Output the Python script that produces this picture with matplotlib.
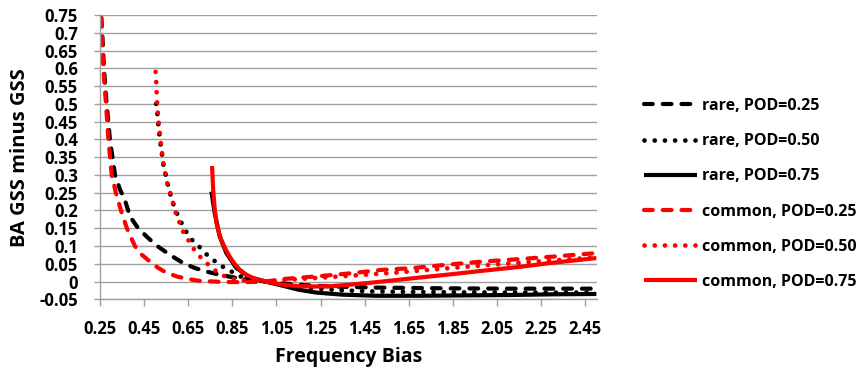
import matplotlib
matplotlib.use("Agg")
import matplotlib.pyplot as plt

# ---- data ----
rare25_x = [0.25, 0.26, 0.268, 0.28, 0.295, 0.318, 0.34, 0.363, 0.386, 0.423, 0.469, 0.514, 0.567, 0.627,
            0.68, 0.733, 0.80, 0.88, 0.95, 1.0, 1.08, 1.2, 1.3, 1.5, 1.8, 2.1, 2.5]
rare25_y = [0.80, 0.70, 0.60, 0.50, 0.40, 0.30, 0.26, 0.229, 0.183, 0.15, 0.122, 0.098, 0.075, 0.052,
            0.038, 0.028, 0.018, 0.009, 0.003, 0.0, -0.006, -0.011, -0.014, -0.017, -0.019, -0.02, -0.02]

rare50_x = [0.505, 0.509, 0.516, 0.526, 0.537, 0.555, 0.575, 0.60, 0.635, 0.67, 0.70, 0.73, 0.763, 0.80,
            0.846, 0.884, 0.93, 1.0, 1.1, 1.2, 1.35, 1.5, 1.8, 2.1, 2.5]
rare50_y = [0.50, 0.48, 0.43, 0.38, 0.33, 0.28, 0.23, 0.19, 0.145, 0.115, 0.098, 0.078, 0.061, 0.044,
            0.028, 0.015, 0.007, 0.0, -0.01, -0.018, -0.025, -0.028, -0.03, -0.031, -0.031]

rare75_x = [0.755, 0.77, 0.793, 0.823, 0.868, 0.929, 1.0, 1.08, 1.15, 1.23, 1.35, 1.5, 1.7, 1.9, 2.1, 2.3, 2.5]
rare75_y = [0.253, 0.193, 0.126, 0.08, 0.038, 0.012, 0.0, -0.012, -0.023, -0.031, -0.037, -0.04, -0.04,
            -0.039, -0.038, -0.036, -0.035]

common25_x = [0.25, 0.255, 0.258, 0.265, 0.277, 0.288, 0.303, 0.322, 0.345, 0.372, 0.408, 0.44, 0.469,
              0.51, 0.55, 0.60, 0.65, 0.70, 0.80, 0.90, 1.0, 1.08, 1.2, 1.26, 1.4, 1.53, 1.67, 1.8, 1.98,
              2.15, 2.3, 2.5]
common25_y = [0.80, 0.75, 0.70, 0.60, 0.50, 0.40, 0.30, 0.25, 0.20, 0.15, 0.10, 0.075, 0.06, 0.04,
              0.025, 0.014, 0.007, 0.002, -0.001, -0.002, 0.0, 0.007, 0.013, 0.016, 0.024, 0.033, 0.038,
              0.046, 0.056, 0.063, 0.07, 0.08]

common50_x = [0.502, 0.505, 0.509, 0.516, 0.526, 0.537, 0.555, 0.57, 0.594, 0.627, 0.65, 0.672, 0.70,
              0.733, 0.778, 0.823, 0.87, 0.93, 1.0, 1.1, 1.23, 1.4, 1.61, 1.8, 2.0, 2.2, 2.5]
common50_y = [0.59, 0.559, 0.501, 0.445, 0.389, 0.333, 0.276, 0.246, 0.192, 0.14, 0.117, 0.094, 0.072,
              0.052, 0.028, 0.012, 0.005, 0.001, 0.0, 0.005, 0.01, 0.017, 0.026, 0.036, 0.046, 0.055, 0.068]

common75_x = [0.758, 0.763, 0.77, 0.778, 0.79, 0.80, 0.82, 0.838, 0.86, 0.884, 0.91, 0.944, 1.0, 1.08,
              1.15, 1.23, 1.3, 1.38, 1.5, 1.68, 1.85, 1.98, 2.15, 2.29, 2.5]
common75_y = [0.325, 0.258, 0.205, 0.164, 0.135, 0.117, 0.09, 0.07, 0.05, 0.033, 0.02, 0.01, 0.0, -0.009,
              -0.013, -0.014, -0.013, -0.009, -0.002, 0.01, 0.021, 0.03, 0.041, 0.052, 0.066]

labels = ["rare, POD=0.25", "rare, POD=0.50", "rare, POD=0.75",
          "common, POD=0.25", "common, POD=0.50", "common, POD=0.75"]
x_ticks = [0.25, 0.45, 0.65, 0.85, 1.05, 1.25, 1.45, 1.65, 1.85, 2.05, 2.25, 2.45]
x_tick_labels = ["0.25", "0.45", "0.65", "0.85", "1.05", "1.25", "1.45", "1.65", "1.85", "2.05", "2.25", "2.45"]
y_ticks = [-0.05, 0, 0.05, 0.1, 0.15, 0.2, 0.25, 0.3, 0.35, 0.4, 0.45, 0.5, 0.55, 0.6, 0.65, 0.7, 0.75]
y_tick_labels = ["-0.05", "0", "0.05", "0.1", "0.15", "0.2", "0.25", "0.3", "0.35", "0.4", "0.45",
                 "0.5", "0.55", "0.6", "0.65", "0.7", "0.75"]

plt.rcParams['font.family'] = ['Open Sans', 'DejaVu Sans']
plt.rcParams['font.weight'] = 'bold'

fig = plt.figure(figsize=(8.65, 3.73), dpi=100)
ax = fig.add_axes([100/865, 1-299.3/373, (597-100)/865, (299.3-15)/373])

lw = 3.0
dash = dict(lw=lw, dashes=(2.1, 2.4), dash_capstyle='round')
dot = dict(lw=3.4, dashes=(0.01, 2.15), dash_capstyle='round')
solid = dict(lw=lw, solid_capstyle='butt')

series = [
    (rare25_x, rare25_y, 'black', dash),
    (rare50_x, rare50_y, 'black', dot),
    (rare75_x, rare75_y, 'black', solid),
    (common25_x, common25_y, '#FF0000', dash),
    (common50_x, common50_y, '#FF0000', dot),
    (common75_x, common75_y, '#FF0000', solid),
]
for (xs, ys, c, st), lab in zip(series, labels):
    ax.plot(xs, ys, color=c, label=lab, **st)

ax.set_xlim(0.25, 2.503)
ax.set_ylim(-0.05, 0.75)
ax.set_xticks(x_ticks)
ax.set_xticklabels(x_tick_labels)
ax.set_yticks(y_ticks)
ax.set_yticklabels(y_tick_labels)
ax.yaxis.grid(True, color='#a0a0a0', lw=1.0)
ax.set_axisbelow(True)
for s in ['top', 'right']:
    ax.spines[s].set_visible(False)
for s in ['left', 'bottom']:
    ax.spines[s].set_color('#a0a0a0')
    ax.spines[s].set_linewidth(1.0)
ax.tick_params(axis='both', colors='#a0a0a0', length=4, width=1.0, labelsize=12, labelcolor='black')
ax.tick_params(axis='x', pad=10, length=5)
ax.tick_params(axis='y', pad=12)
for t in ax.get_xticklabels() + ax.get_yticklabels():
    t.set_fontweight('bold')

ax.set_xlabel("Frequency Bias", fontsize=14, fontweight='bold', va='center')
ax.xaxis.set_label_coords(0.5, (299.3 - 357) / 284.3)
ax.set_ylabel("BA GSS minus GSS", fontsize=14.5, fontweight='bold', va='center')
ax.yaxis.set_label_coords((20 - 100) / 497, 0.5)

leg = fig.legend(loc='center left', bbox_to_anchor=(0.745, 0.48), frameon=False,
                 fontsize=11.5, handlelength=3.3, handletextpad=0.3, labelspacing=1.2,
                 borderpad=0, borderaxespad=0)
for t in leg.get_texts():
    t.set_fontweight('bold')

fig.savefig("out.png", dpi=100)
